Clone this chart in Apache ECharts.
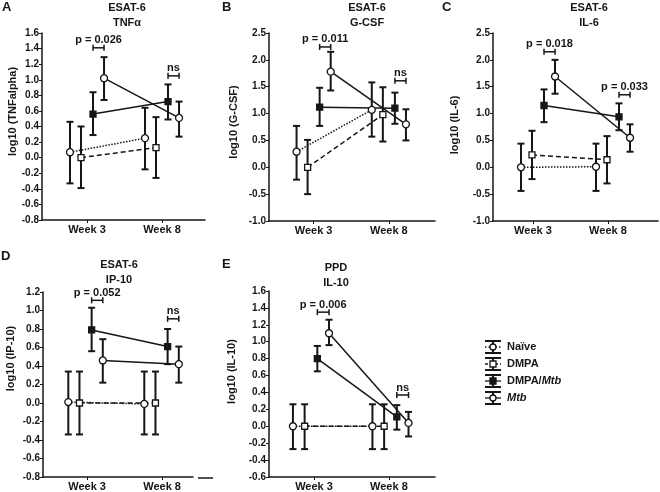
<!DOCTYPE html>
<html><head><meta charset="utf-8">
<script src="https://cdn.jsdelivr.net/npm/echarts@6/dist/echarts.min.js"></script>
<style>html,body{margin:0;padding:0;background:#fff}#c{width:660px;height:492px}</style>
</head><body><div id="c"></div>
<script>
const weeks = ['Week 3', 'Week 8'];
const groups = ['Naïve', 'DMPA', 'DMPA/Mtb', 'Mtb'];
const panelLetters = ['A', 'B', 'C', 'D', 'E'];
const stimuli = ['ESAT-6', 'ESAT-6', 'ESAT-6', 'ESAT-6', 'PPD'];
const cytokines = ['TNFα', 'G-CSF', 'IL-6', 'IP-10', 'IL-10'];
const yNames = ['log10 (TNFalpha)', 'log10 (G-CSF)', 'log10 (IL-6)', 'log10 (IP-10)', 'log10 (IL-10)'];
const yMin = [-0.8, -1.0, -1.0, -0.8, -0.6];
const yMax = [1.6, 2.5, 2.5, 1.2, 1.6];
const yStep = [0.2, 0.5, 0.5, 0.2, 0.2];

// rows: Naïve, DMPA, DMPA/Mtb, Mtb ; columns: Week 3, Week 8
const tnfMean  = [[0.07, 0.25], [0.00, 0.13], [0.56, 0.72], [1.02, 0.51]];
const tnfUpper = [[0.46, 0.64], [0.40, 0.52], [0.84, 0.94], [1.29, 0.72]];
const tnfLower = [[-0.33, -0.15], [-0.39, -0.26], [0.29, 0.49], [0.74, 0.27]];
const tnfSig   = [['p = 0.026', 0, 1.41], ['ns', 1, 1.05]];

const gcsfMean  = [[0.29, 1.07], [0.00, 0.98], [1.12, 1.10], [1.78, 0.80]];
const gcsfUpper = [[0.77, 1.58], [0.51, 1.49], [1.48, 1.39], [2.15, 1.08]];
const gcsfLower = [[-0.23, 0.57], [-0.50, 0.48], [0.77, 0.81], [1.43, 0.50]];
const gcsfSig   = [['p = 0.011', 0, 2.24], ['ns', 1, 1.61]];

const il6Mean  = [[0.00, 0.01], [0.23, 0.14], [1.15, 0.94], [1.69, 0.55]];
const il6Upper = [[0.44, 0.44], [0.68, 0.58], [1.45, 1.19], [2.00, 0.80]];
const il6Lower = [[-0.44, -0.44], [-0.22, -0.30], [0.84, 0.69], [1.37, 0.29]];
const il6Sig   = [['p = 0.018', 0, 2.15], ['p = 0.033', 1, 1.35]];

const ip10Mean  = [[0.01, -0.01], [0.00, 0.00], [0.79, 0.61], [0.46, 0.42]];
const ip10Upper = [[0.34, 0.34], [0.34, 0.34], [1.03, 0.80], [0.69, 0.61]];
const ip10Lower = [[-0.34, -0.34], [-0.34, -0.34], [0.56, 0.42], [0.22, 0.22]];
const ip10Sig   = [['p = 0.052', 0, 1.11], ['ns', 1, 0.91]];

const il10Mean  = [[0.00, 0.00], [0.00, 0.00], [0.80, 0.11], [1.10, 0.04]];
const il10Upper = [[0.26, 0.26], [0.26, 0.26], [0.95, 0.25], [1.26, 0.17]];
const il10Lower = [[-0.27, -0.27], [-0.27, -0.27], [0.65, -0.04], [0.96, -0.12]];
const il10Sig   = [['p = 0.006', 0, 1.35], ['ns', 1, 0.37]];

const panelMeans = [tnfMean, gcsfMean, il6Mean, ip10Mean, il10Mean];
const panelUpper = [tnfUpper, gcsfUpper, il6Upper, ip10Upper, il10Upper];
const panelLower = [tnfLower, gcsfLower, il6Lower, ip10Lower, il10Lower];
const panelSig = [tnfSig, gcsfSig, il6Sig, ip10Sig, il10Sig];

// ---- layout / style ----
const FONT = '"Liberation Sans", Arial, sans-serif';
const INK = '#161616';
const grids = [
  {left: 42, top: 33, width: 163, height: 187},
  {left: 269, top: 33, width: 166, height: 188},
  {left: 493, top: 33, width: 165, height: 188},
  {left: 43, top: 292, width: 150, height: 186},
  {left: 269, top: 291, width: 166, height: 188}
];
const xMin = [0.4, 0.407, 0.4, 0.44, 0.472];
const xMax = [2.573, 2.613, 2.6, 2.414, 2.56];
const tickPos = [[1, 2], [1, 2], [0.933, 1.933], [1.02, 2.007], [1.038, 1.98]];
const offsets = [-0.227, -0.08, 0.08, 0.227];
const lineTypes = ['dotted', [5, 3], 'solid', 'solid'];
const symbols = ['circle', 'rect', 'rect', 'circle'];
const symbolSizes = [7, 6, 6, 7];
const fills = ['#fff', '#fff', INK, '#fff'];
const titlePos = [[127, 0], [367, 0], [589, 0], [119, 257], [336, 260]];
const letterPos = [[2, 1], [222, 1], [442, 1], [1, 250], [222, 258]];
const yNamePos = [[12.5, 111.5], [234, 122], [455, 125], [11, 358.5], [232, 371.5]];

const xAxes = [], yAxes = [], series = [], titles = [], graphics = [];

function errRender(params, api) {
  const x = api.value(0), lo = api.value(1), hi = api.value(2);
  const a = api.coord([x, hi]), b = api.coord([x, lo]);
  const w = 3.5, st = {stroke: INK, lineWidth: 2};
  return {type: 'group', children: [
    {type: 'line', shape: {x1: a[0], y1: a[1], x2: b[0], y2: b[1]}, style: st},
    {type: 'line', shape: {x1: a[0] - w, y1: a[1], x2: a[0] + w, y2: a[1]}, style: st},
    {type: 'line', shape: {x1: b[0] - w, y1: b[1], x2: b[0] + w, y2: b[1]}, style: st}
  ]};
}

for (let p = 0; p < 5; p++) {
  xAxes.push({
    gridIndex: p, type: 'value', min: xMin[p], max: xMax[p],
    axisLine: {show: true, onZero: false, lineStyle: {color: INK, width: 1.5}},
    axisTick: {show: true, customValues: tickPos[p], length: 3, lineStyle: {color: INK, width: 1}},
    axisLabel: {show: true, customValues: tickPos[p], margin: 4, showMinLabel: true, showMaxLabel: true,
      formatter: v => (v < 1.5 ? weeks[0] : weeks[1]), color: INK, fontFamily: FONT, fontWeight: 'bold', fontSize: 11},
    splitLine: {show: false}
  });
  yAxes.push({
    gridIndex: p, type: 'value', min: yMin[p], max: yMax[p], interval: yStep[p],
    axisLine: {show: true, onZero: false, lineStyle: {color: INK, width: 1.5}},
    axisTick: {show: true, length: 3, lineStyle: {color: INK, width: 1}},
    axisLabel: {margin: 3, color: INK, fontFamily: FONT, fontWeight: 'bold', fontSize: 10,
      formatter: v => v.toFixed(1)},
    splitLine: {show: false}
  });
  for (let k = 0; k < 4; k++) {
    const xs = [1 + offsets[k], 2 + offsets[k]];
    series.push({
      type: 'custom', xAxisIndex: p, yAxisIndex: p, z: 2, silent: true,
      renderItem: errRender, encode: {x: 0, y: [1, 2]},
      data: [0, 1].map(w => [xs[w], panelLower[p][k][w], panelUpper[p][k][w]])
    });
    series.push({
      type: 'line', xAxisIndex: p, yAxisIndex: p, z: 3, silent: true,
      name: groups[k],
      data: [0, 1].map(w => [xs[w], panelMeans[p][k][w]]),
      symbol: symbols[k], symbolSize: symbolSizes[k], showAllSymbol: true,
      itemStyle: {color: fills[k], borderColor: INK, borderWidth: 1.3},
      lineStyle: {color: INK, width: 1.5, type: lineTypes[k]},
      clip: false, animation: false
    });
  }
  const sig = panelSig[p];
  series.push({
    type: 'custom', xAxisIndex: p, yAxisIndex: p, z: 4, silent: true,
    encode: {x: [0, 1], y: 2},
    data: sig.map(s => [s[1] + 1 + offsets[2], s[1] + 1 + offsets[3], s[2]]),
    renderItem: (params, api) => {
      const a = api.coord([api.value(0), api.value(2)]);
      const b = api.coord([api.value(1), api.value(2)]);
      const st = {stroke: INK, lineWidth: 1.5};
      return {type: 'group', children: [
        {type: 'line', shape: {x1: a[0], y1: a[1], x2: b[0], y2: b[1]}, style: st},
        {type: 'line', shape: {x1: a[0], y1: a[1] - 3, x2: a[0], y2: a[1] + 3}, style: st},
        {type: 'line', shape: {x1: b[0], y1: b[1] - 3, x2: b[0], y2: b[1] + 3}, style: st},
        {type: 'text', style: {text: sig[params.dataIndex][0], x: (a[0] + b[0]) / 2, y: a[1] - 2,
          align: 'center', verticalAlign: 'bottom', fill: INK,
          font: 'bold 11px ' + FONT}}
      ]};
    }
  });
  titles.push({text: stimuli[p] + '\n' + cytokines[p], left: titlePos[p][0], top: titlePos[p][1],
    textAlign: 'center', padding: 0,
    textStyle: {fontFamily: FONT, fontWeight: 'bold', fontSize: 11, lineHeight: 15, color: INK}});
  titles.push({text: panelLetters[p], left: letterPos[p][0], top: letterPos[p][1], padding: 0,
    textStyle: {fontFamily: FONT, fontWeight: 'bold', fontSize: 13, color: INK}});
  graphics.push({type: 'text', x: yNamePos[p][0], y: yNamePos[p][1], rotation: Math.PI / 2,
    style: {text: yNames[p], align: 'center', verticalAlign: 'middle', fill: INK,
      font: 'bold 11px ' + FONT}});
}

// x-axis break segment on panel D
graphics.push({type: 'line', shape: {x1: 198, y1: 478, x2: 213, y2: 478},
  style: {stroke: INK, lineWidth: 1.5}});

// legend (drawn)
const legY = [347, 364, 381, 398];
const legX = 493;
for (let k = 0; k < 4; k++) {
  const y = legY[k];
  const st = {stroke: INK, lineWidth: 2};
  const dash = k === 0 ? [1.5, 2] : (k === 1 ? [3, 2] : null);
  graphics.push({type: 'line', shape: {x1: legX - 8, y1: y - 6, x2: legX + 8, y2: y - 6}, style: st});
  graphics.push({type: 'line', shape: {x1: legX - 8, y1: y + 6, x2: legX + 8, y2: y + 6}, style: st});
  graphics.push({type: 'line', shape: {x1: legX, y1: y - 6, x2: legX, y2: y + 6}, style: st});
  graphics.push({type: 'line', shape: {x1: legX - 8, y1: y, x2: legX + 8, y2: y},
    style: {stroke: INK, lineWidth: 1.3, lineDash: dash}});
  if (symbols[k] === 'circle') {
    graphics.push({type: 'circle', shape: {cx: legX, cy: y, r: 3}, style: {fill: fills[k], stroke: INK, lineWidth: 1.3}});
  } else {
    graphics.push({type: 'rect', shape: {x: legX - 3, y: y - 3, width: 6, height: 6}, style: {fill: fills[k], stroke: INK, lineWidth: 1.3}});
  }
  const label = groups[k].replace('Mtb', '{i|Mtb}');
  graphics.push({type: 'text', x: 507, y: y, style: {text: label, align: 'left', verticalAlign: 'middle',
    fill: INK, font: 'bold 11px ' + FONT,
    rich: {i: {fontStyle: 'italic', fontWeight: 'bold', fontSize: 11, fontFamily: FONT, fill: INK}}}});
}

const chart = echarts.init(document.getElementById('c'), null, {renderer: 'canvas'});
chart.setOption({
  animation: false,
  backgroundColor: '#fff',
  title: titles,
  grid: grids.map(g => Object.assign({containLabel: false}, g)),
  xAxis: xAxes,
  yAxis: yAxes,
  series: series,
  graphic: graphics
});
</script></body></html>
